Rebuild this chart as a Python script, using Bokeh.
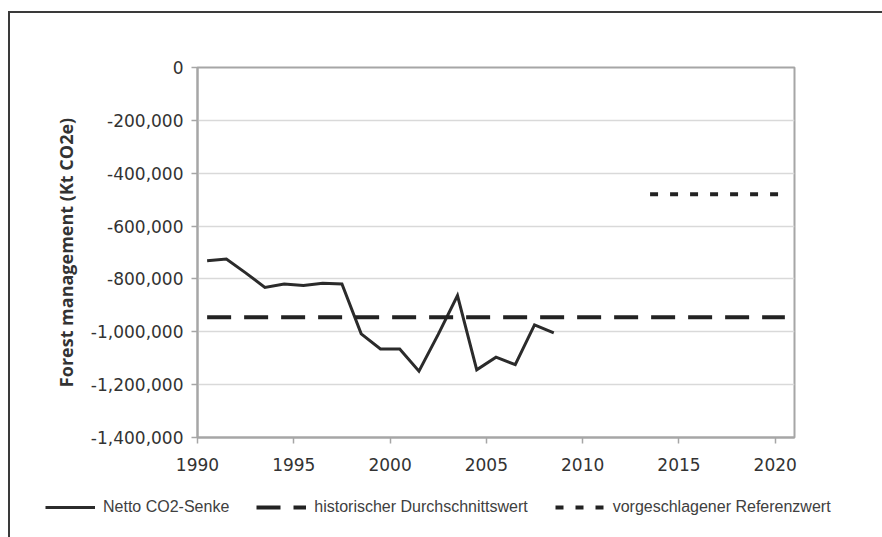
from bokeh.plotting import figure
from bokeh.models import Range1d, FixedTicker, NumeralTickFormatter, Legend, LegendItem, ColumnDataSource
from bokeh.layouts import column, row
from bokeh.embed import file_html
from bokeh.resources import INLINE

# ---- data ----
years = [1990, 1991, 1992, 1993, 1994, 1995, 1996, 1997, 1998, 1999,
         2000, 2001, 2002, 2003, 2004, 2005, 2006, 2007, 2008]
netto = [-731000, -725000, -777000, -832000, -819000, -825000, -816000, -819000,
         -1008000, -1065000, -1065000, -1149000, -1010000, -863000, -1144000,
         -1096000, -1124000, -974000, -1004000]
hist_years = [1990, 2020]
hist_value = -945000
ref_years = [2013, 2020]
ref_value = -480000
x_ticks = [1990, 1995, 2000, 2005, 2010, 2015, 2020]
y_ticks = [0, -200000, -400000, -600000, -800000, -1000000, -1200000, -1400000]
series_names = ["Netto CO2-Senke", "historischer Durchschnittswert", "vorgeschlagener Referenzwert"]
y_title = "Forest management (Kt CO2e)"

# categories are year bands; points sit at band centres
half = 0.5
src_netto = ColumnDataSource(dict(x=[y + half for y in years], y=netto))
src_hist = ColumnDataSource(dict(x=[y + half for y in hist_years], y=[hist_value] * len(hist_years)))
src_ref = ColumnDataSource(dict(x=[y + half for y in ref_years], y=[ref_value] * len(ref_years)))

styles = [dict(line_color="#2b2b2b", line_width=3),
          dict(line_color="#222222", line_width=4, line_dash="24 13"),
          dict(line_color="#222222", line_width=4, line_dash="8 12")]

p = figure(width=872, height=469, output_backend="svg", toolbar_location=None,
           x_range=Range1d(1990, 2021), y_range=Range1d(-1400000, 0),
           min_border_left=187, min_border_top=54, min_border_right=88, min_border_bottom=45)

p.background_fill_color = "white"
p.border_fill_color = "white"
p.outline_line_color = "#a6a6a6"
p.outline_line_width = 2

p.xgrid.grid_line_color = None
p.ygrid.grid_line_color = "#d9d9d9"
p.ygrid.grid_line_width = 1.5
p.ygrid.ticker = FixedTicker(ticks=y_ticks)

for ax in (p.xaxis[0], p.yaxis[0]):
    ax.axis_line_color = "#a6a6a6"
    ax.axis_line_width = 2
    ax.major_tick_line_color = "#a6a6a6"
    ax.major_tick_line_width = 1.5
    ax.major_tick_out = 6
    ax.major_tick_in = 0
    ax.minor_tick_line_color = None
    ax.major_label_text_font = "DejaVu Sans"
    ax.major_label_text_font_size = "17px"
    ax.major_label_text_color = "#333333"

p.xaxis.ticker = FixedTicker(ticks=x_ticks)
p.xaxis.major_label_standoff = 14
p.yaxis.ticker = FixedTicker(ticks=y_ticks)
p.yaxis.formatter = NumeralTickFormatter(format="0,0")
p.yaxis.major_label_standoff = 8
p.yaxis.axis_label = y_title
p.yaxis.axis_label_text_font = "Open Sans"
p.yaxis.axis_label_text_font_style = "bold"
p.yaxis.axis_label_text_font_size = "18px"
p.yaxis.axis_label_text_color = "#333333"
p.yaxis.axis_label_standoff = 10

p.line("x", "y", source=src_netto, line_join="miter", **styles[0])
p.line("x", "y", source=src_hist, **styles[1])
p.line("x", "y", source=src_ref, **styles[2])

# ---- legend strip below the chart ----
q = figure(width=872, height=55, output_backend="svg", toolbar_location=None,
           x_range=Range1d(0, 1), y_range=Range1d(0, 1),
           x_axis_location=None, y_axis_location=None, min_border=0)
q.grid.visible = False
q.outline_line_color = None
q.background_fill_color = "white"
q.border_fill_color = "white"
# dummy renderers (outside the visible range) that only provide legend swatches
lr = [q.line("x", "y", source=ColumnDataSource(dict(x=[-10, -9], y=[-10, -10])), **st)
      for st in styles]

legend = Legend(items=[LegendItem(label=n, renderers=[r]) for n, r in zip(series_names, lr)],
                orientation="horizontal", location=(35, 20))
legend.border_line_color = None
legend.background_fill_alpha = 0
legend.padding = 5
legend.spacing = 27
legend.glyph_width = 50
legend.label_standoff = 8
legend.label_text_font = "Liberation Sans"
legend.label_text_font_size = "16px"
legend.label_text_color = "#404040"
q.add_layout(legend)

layout = column(p, row(q), margin=(11, 0, 0, 8), spacing=0,
                styles={"border-top": "2px solid #3a3a3a", "border-left": "2px solid #3a3a3a"})

open("out.html", "w").write(file_html(layout, INLINE))
